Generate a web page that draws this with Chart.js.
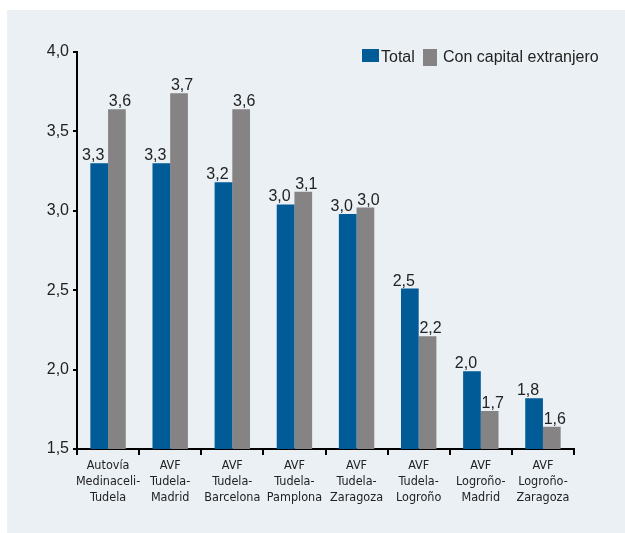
<!DOCTYPE html>
<html lang="es">
<head>
<meta charset="utf-8">
<title>Tiempos por corredor</title>
<script src="https://cdn.jsdelivr.net/npm/chart.js@4.4.1/dist/chart.umd.min.js"></script>
<style>
  html, body { margin: 0; padding: 0; background: #ffffff; }
  #grafico { display: block; }
</style>
</head>
<body>
<canvas id="grafico" width="625" height="533"></canvas>
<script>
// Datos por corredor
const categorias = [
    ['Autovía', 'Medinaceli-', 'Tudela'],
    ['AVF', 'Tudela-', 'Madrid'],
    ['AVF', 'Tudela-', 'Barcelona'],
    ['AVF', 'Tudela-', 'Pamplona'],
    ['AVF', 'Tudela-', 'Zaragoza'],
    ['AVF', 'Tudela-', 'Logroño'],
    ['AVF', 'Logroño-', 'Madrid'],
    ['AVF', 'Logroño-', 'Zaragoza']
];
const valoresTotal = [3.30, 3.30, 3.18, 3.04, 2.98, 2.51, 1.99, 1.82];
const valoresExtranjero = [3.64, 3.74, 3.64, 3.12, 3.02, 2.21, 1.74, 1.64];
const ticksEje = [1.5, 2.0, 2.5, 3.0, 3.5, 4.0];

const AZUL = '#005B96';
const GRIS = '#858383';
const FONDO = '#EBF0F4';

// formato con coma decimal
const formatear = v => (Math.round(v * 10) / 10).toFixed(1).replace('.', ',');

// Panel de fondo
const fondoPanel = {
    id: 'fondoPanel',
    beforeDraw(chart) {
        const ctx = chart.ctx;
        ctx.save();
        ctx.fillStyle = FONDO;
        ctx.fillRect(7, 10, chart.width - 7, chart.height - 10);
        ctx.restore();
    }
};

// Valores encima de cada barra
const etiquetasValor = {
    id: 'etiquetasValor',
    afterDatasetsDraw(chart) {
        const ctx = chart.ctx;
        ctx.save();
        ctx.font = '16px "Liberation Sans", Arial, sans-serif';
        ctx.fillStyle = '#222222';
        ctx.textAlign = 'center';
        ctx.textBaseline = 'alphabetic';
        const desplaz = [-6, 3];
        chart.data.datasets.forEach((ds, i) => {
            const meta = chart.getDatasetMeta(i);
            meta.data.forEach((barra, j) => {
                ctx.fillText(formatear(ds.data[j]), barra.x + desplaz[i], barra.y - 3);
            });
        });
        ctx.restore();
    }
};

// Leyenda arriba a la derecha
const leyenda = {
    id: 'leyenda',
    afterDraw(chart) {
        const ctx = chart.ctx;
        const ds = chart.data.datasets;
        ctx.save();
        ctx.font = '16px "Liberation Sans", Arial, sans-serif';
        ctx.textBaseline = 'middle';
        ctx.textAlign = 'left';
        ctx.fillStyle = ds[0].backgroundColor;
        ctx.fillRect(362, 49, 17, 13);
        ctx.fillStyle = '#222222';
        ctx.fillText(ds[0].label, 381, 58);
        ctx.fillStyle = ds[1].backgroundColor;
        ctx.fillRect(423, 49, 14, 17);
        ctx.fillStyle = '#222222';
        ctx.fillText(ds[1].label, 443, 58);
        ctx.restore();
    }
};

new Chart(document.getElementById('grafico'), {
    type: 'bar',
    data: {
        labels: categorias,
        datasets: [
            { label: 'Total', data: valoresTotal, backgroundColor: AZUL, borderWidth: 0 },
            { label: 'Con capital extranjero', data: valoresExtranjero, backgroundColor: GRIS, borderWidth: 0 }
        ]
    },
    options: {
        responsive: false,
        animation: false,
        devicePixelRatio: 1,
        layout: { padding: { left: 0, right: 51, top: 52, bottom: 0 } },
        datasets: { bar: { categoryPercentage: 0.57, barPercentage: 1.0 } },
        plugins: { legend: { display: false }, tooltip: { enabled: false } },
        scales: {
            x: {
                grid: { offset: true, drawOnChartArea: false, drawTicks: true, tickLength: 6, color: '#000000', lineWidth: 2 },
                border: { display: true, color: '#000000', width: 2 },
                ticks: {
                    padding: 3,
                    maxRotation: 0,
                    autoSkip: false,
                    color: '#222222',
                    font: { family: '"DejaVu Sans Condensed", sans-serif', size: 12.5, lineHeight: 1.28 }
                },
                afterFit(scale) { scale.height = 84; }
            },
            y: {
                min: 1.5,
                max: 4.0,
                afterBuildTicks(scale) { scale.ticks = ticksEje.map(v => ({ value: v })); },
                grid: { drawOnChartArea: false, drawTicks: true, tickLength: 4, color: '#000000', lineWidth: 2 },
                border: { display: true, color: '#000000', width: 2 },
                ticks: {
                    padding: 4,
                    color: '#222222',
                    font: { family: '"Liberation Sans", Arial, sans-serif', size: 16 },
                    callback: v => formatear(v)
                },
                afterFit(scale) { scale.width = 77; }
            }
        }
    },
    plugins: [fondoPanel, etiquetasValor, leyenda]
});
</script>
</body>
</html>
